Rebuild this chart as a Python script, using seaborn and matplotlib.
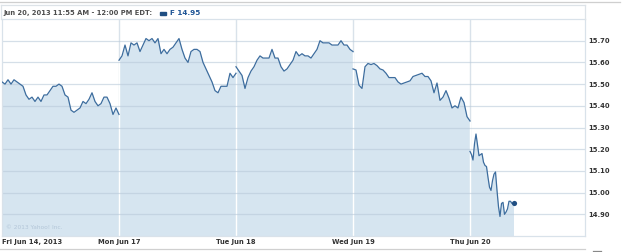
import numpy as np
import pandas as pd
import matplotlib
matplotlib.use("Agg")
import matplotlib.pyplot as plt
from matplotlib.patches import Rectangle
from matplotlib.lines import Line2D
import seaborn as sns

# ---------------- data ----------------
day_labels = ["Fri Jun 14, 2013", "Mon Jun 17", "Tue Jun 18", "Wed Jun 19", "Thu Jun 20"]
fri = [15.51, 15.50, 15.52, 15.50, 15.52, 15.51, 15.50, 15.49, 15.45, 15.43,
       15.44, 15.42, 15.44, 15.42, 15.45, 15.45, 15.47, 15.49, 15.49, 15.50,
       15.49, 15.45, 15.44, 15.38, 15.37, 15.38, 15.39, 15.42, 15.41, 15.43,
       15.46, 15.42, 15.40, 15.41, 15.44, 15.44, 15.41, 15.36, 15.39, 15.36]
mon = [15.61, 15.63, 15.68, 15.63, 15.69, 15.68, 15.69, 15.65, 15.68, 15.71,
       15.70, 15.71, 15.69, 15.71, 15.64, 15.66, 15.64, 15.66, 15.67, 15.69,
       15.71, 15.66, 15.62, 15.60, 15.65, 15.66, 15.66, 15.65, 15.60, 15.57,
       15.54, 15.51, 15.47, 15.46, 15.49, 15.49, 15.49, 15.55, 15.53, 15.55]
tue = [15.58, 15.56, 15.54, 15.48, 15.53, 15.56, 15.58, 15.61, 15.63, 15.62,
       15.62, 15.62, 15.66, 15.62, 15.62, 15.58, 15.56, 15.57, 15.59, 15.61,
       15.65, 15.63, 15.64, 15.63, 15.63, 15.62, 15.64, 15.66, 15.70, 15.69,
       15.69, 15.69, 15.68, 15.68, 15.68, 15.70, 15.68, 15.68, 15.66, 15.65]
wed = [15.57, 15.565, 15.495, 15.48, 15.58, 15.595, 15.59, 15.595, 15.585, 15.57,
       15.565, 15.55, 15.53, 15.53, 15.53, 15.51, 15.50, 15.505, 15.51, 15.515,
       15.535, 15.54, 15.545, 15.55, 15.535, 15.535, 15.515, 15.46, 15.505, 15.425,
       15.44, 15.47, 15.435, 15.39, 15.40, 15.39, 15.44, 15.415, 15.35, 15.33]
thu = [15.19, 15.175, 15.15, 15.225, 15.27, 15.22, 15.17, 15.175, 15.18, 15.14,
       15.125, 15.12, 15.07, 15.025, 15.01, 15.055, 15.085, 15.095, 15.01, 14.935,
       14.89, 14.95, 14.955, 14.90, 14.91, 14.925, 14.96, 14.96, 14.95, 14.95]
day_series = [fri, mon, tue, wed, thu]
step_minutes = [10, 10, 10, 10, 5]          # sampling interval per day
session_minutes = 390                        # 9:30 - 16:00
y_ticks = [14.90, 15.00, 15.10, 15.20, 15.30, 15.40, 15.50, 15.60, 15.70]
header_text = "Jun 20, 2013 11:55 AM - 12:00 PM EDT:"
legend_text = "F 14.95"

rows = []
for d, (vals, stp) in enumerate(zip(day_series, step_minutes)):
    for i, v in enumerate(vals):
        rows.append({"day": d, "t": d * session_minutes + i * stp, "price": v})
df = pd.DataFrame(rows)

# ---------------- figure ----------------
W, H = 625, 252
fig = plt.figure(figsize=(W / 100, H / 100), dpi=100)
fig.patch.set_facecolor("white")
ax = fig.add_axes([2 / W, 16 / H, 583 / W, 217 / H])
ax.set_facecolor("white")

line_color = "#3d6d9e"
fill_color = "#d6e5f0"
ymin, ymax = 14.80, 15.80
xmax = 583 / 117 * session_minutes

# fill under each day
for d, g in df.groupby("day"):
    ax.fill_between(g["t"], g["price"], ymin, color=fill_color, lw=0, zorder=1)

# vertical day separators: grey above the fill, white inside it
for d in range(1, len(day_series)):
    xb = d * session_minutes
    ax.axvline(xb, color="#d9e2ea", lw=1.0, zorder=0.5)
    top = max(day_series[d - 1][-1], day_series[d][0])
    ax.vlines(xb, ymin, top, color="white", lw=1.0, zorder=1.5)

# horizontal gridlines
for yt in y_ticks:
    ax.axhline(yt, color="#b9cada", alpha=0.6, lw=0.9, zorder=2)

sns.lineplot(data=df, x="t", y="price", units="day", estimator=None,
             color=line_color, lw=0.9, ax=ax, zorder=3, legend=False)

last = df.iloc[-1]
ax.scatter([last["t"]], [last["price"]], s=14, color="#1f4e82", zorder=4, linewidths=0)

ax.set_xlim(0, xmax)
ax.set_ylim(ymin, ymax)
ax.set_xlabel("")
ax.set_ylabel("")

tick_font = dict(family="DejaVu Sans", weight="bold", size=4.9, color="#333333")
ax.yaxis.tick_right()
ax.set_yticks(y_ticks)
ax.set_yticklabels([f"{v:.2f}" for v in y_ticks], **tick_font)
ax.tick_params(axis="y", length=0, pad=2.5)

ax.set_xticks([d * session_minutes for d in range(len(day_labels))])
ax.set_xticklabels(day_labels, **tick_font)
ax.tick_params(axis="x", length=0, pad=2.5)
xl = ax.get_xticklabels()
xl[0].set_ha("left")

for s in ax.spines.values():
    s.set_color("#d9e2ea")
    s.set_linewidth(0.9)
ax.grid(False)

# copyright
ax.text(4 / 583 * xmax, ymin + 0.028, "\u00a9 2013 Yahoo! Inc.", fontsize=4.2,
        color="#b3c6d8", family="DejaVu Sans", va="bottom", ha="left", zorder=5)

# ---------------- header ----------------
def fy(py):
    return 1 - py / H

fig.add_artist(Line2D([0, 620 / W], [fy(1.5), fy(1.5)], color="#cfcfcf", lw=0.9))
fig.add_artist(Line2D([1 / W, 585 / W], [fy(5), fy(5)], color="#dde3e8", lw=0.9))
fig.add_artist(Line2D([1 / W, 1 / W], [fy(5), fy(19)], color="#dde3e8", lw=0.9))
fig.add_artist(Line2D([585 / W, 585 / W], [fy(5), fy(19)], color="#dde3e8", lw=0.9))
fig.add_artist(Line2D([0, 585 / W], [fy(249), fy(249)], color="#d0d0d0", lw=0.9))
fig.add_artist(Line2D([593 / W, 601 / W], [fy(251), fy(251)], color="#888888", lw=0.9))

fig.text(3 / W, fy(13), header_text, family="DejaVu Sans", weight="bold",
         fontsize=4.9, color="#4d4d4d", va="center", ha="left")
fig.add_artist(Rectangle((160 / W, fy(14.5)), 6 / W, 3 / H, color="#1f4e82",
                         transform=fig.transFigure))
fig.text(170 / W, fy(13), legend_text, family="DejaVu Sans", weight="bold",
         fontsize=5.2, color="#1f5596", va="center", ha="left")

fig.savefig("out.png", dpi=100)
